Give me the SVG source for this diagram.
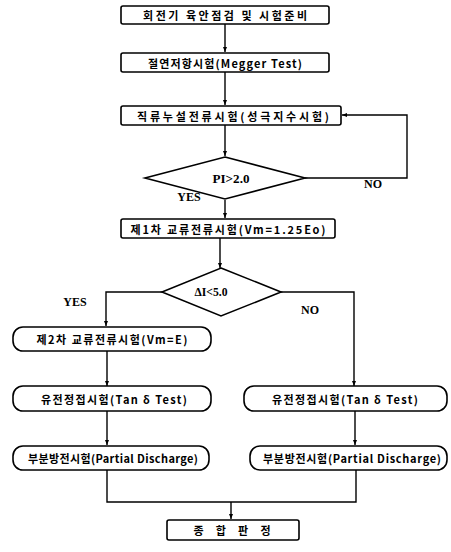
<svg xmlns="http://www.w3.org/2000/svg" width="451" height="552" viewBox="0 0 451 552">
<defs>
<marker id="ah" viewBox="0 0 10 10" refX="10" refY="5" markerWidth="5" markerHeight="5" orient="auto" markerUnits="userSpaceOnUse">
<path d="M0,1 L10,5 L0,9 z" fill="#000"/>
</marker>
</defs>
<style>
.box{fill:#fff;stroke:#000;stroke-width:1.6}
.t{font-family:"Noto Sans CJK KR","Liberation Serif",serif;font-weight:bold;font-size:11px;text-anchor:middle;dominant-baseline:central;fill:#000}
.l{font-family:"Liberation Serif","Noto Sans CJK KR",serif;font-weight:bold;font-size:12px;text-anchor:middle;dominant-baseline:central;fill:#000}
.c{fill:none;stroke:#000;stroke-width:1.4}
.a{marker-end:url(#ah)}
</style>
<rect width="451" height="552" fill="#fff"/>
<g id="connectors">
<path class="c a" d="M225,24 V52"/>
<path class="c a" d="M225,72 V105"/>
<path class="c a" d="M225,125 V156"/>
<path class="c a" d="M305,178 H407 V115 H342"/>
<path class="c a" d="M225,200 V218"/>
<path class="c a" d="M220,238 V268"/>
<path class="c a" d="M162,292 H106 V326"/>
<path class="c a" d="M281,292 H354 V386"/>
<path class="c a" d="M107,351 V386"/>
<path class="c a" d="M107,411 V445"/>
<path class="c a" d="M355,411 V445"/>
<path class="c" d="M107,470 V502 H356 V470"/>
<path class="c a" d="M231,502 V519"/>
</g>
<g id="n1"><rect class="box" x="121" y="6" width="208" height="18" rx="2"/><text class="t" x="225" y="15" textLength="164" lengthAdjust="spacing">회전기 육안점검 및 시험준비</text></g>
<g id="n2"><rect class="box" x="121" y="53" width="208" height="19" rx="2"/><text class="t" x="225" y="62.5" textLength="154" lengthAdjust="spacing">절연저항시험(Megger Test)</text></g>
<g id="n3"><rect class="box" x="121" y="106" width="220" height="19" rx="2"/><text class="t" x="233" y="115.5" textLength="192" lengthAdjust="spacing">직류누설전류시험(성극지수시험)</text></g>
<g id="d1"><polygon class="box" points="225,157 305,178 225,199 145,178"/><text class="l" x="231" y="179" textLength="37" lengthAdjust="spacingAndGlyphs">PI&gt;2.0</text></g>
<text class="l" x="189" y="197">YES</text>
<text class="l" x="373" y="184">NO</text>
<g id="n4"><rect class="box" x="121" y="219" width="214" height="19" rx="2"/><text class="t" x="228" y="228.5" textLength="195" lengthAdjust="spacing">제1차 교류전류시험(Vm=1.25Eo)</text></g>
<g id="d2"><polygon class="box" points="221,268 281,292 221,316 162,292"/><text class="l" x="211" y="292" textLength="33" lengthAdjust="spacingAndGlyphs">ΔI&lt;5.0</text></g>
<text class="l" x="75" y="302">YES</text>
<text class="l" x="310" y="310">NO</text>
<g id="n5"><rect class="box" x="13" y="327" width="198" height="24" rx="10"/><text class="t" x="112" y="339" textLength="151" lengthAdjust="spacing">제2차 교류전류시험(Vm=E)</text></g>
<g id="n6"><rect class="box" x="13" y="386" width="198" height="25" rx="10"/><text class="t" x="114" y="398.5" textLength="146" lengthAdjust="spacing">유전정접시험(Tan δ Test)</text></g>
<g id="n7"><rect class="box" x="244" y="386" width="203" height="25" rx="10"/><text class="t" x="345" y="398.5" textLength="146" lengthAdjust="spacing">유전정접시험(Tan δ Test)</text></g>
<g id="n8"><rect class="box" x="13" y="446" width="196" height="24" rx="10"/><text class="t" x="113" y="458" textLength="170" lengthAdjust="spacing">부분방전시험(Partial Discharge)</text></g>
<g id="n9"><rect class="box" x="250" y="446" width="197" height="24" rx="10"/><text class="t" x="352" y="458" textLength="178" lengthAdjust="spacing">부분방전시험(Partial Discharge)</text></g>
<g id="n10"><rect class="box" x="167" y="520" width="132" height="20" rx="2"/><text class="t" x="232" y="530" textLength="77" lengthAdjust="spacing">종 합 판 정</text></g>
</svg>
